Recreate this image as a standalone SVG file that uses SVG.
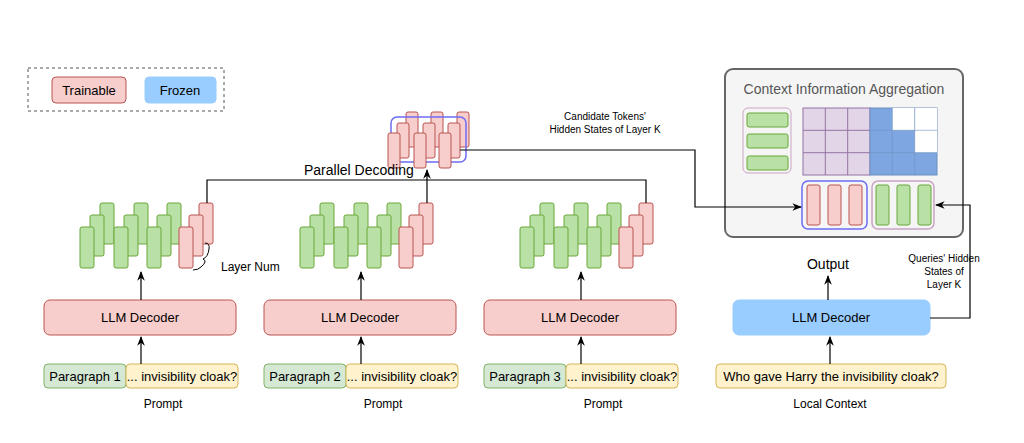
<svg xmlns="http://www.w3.org/2000/svg" width="1024" height="443" viewBox="0 0 1024 443">
<defs>
<style>
text{font-family:"Liberation Sans",Arial,sans-serif;fill:#000}
.r{fill:#f8cecc;stroke:#b85450;stroke-width:1}
.g{fill:#b9e0a5;stroke:#6aa83a;stroke-width:1}
.para{fill:#d5e8d4;stroke:#82b366}
.yel{fill:#fff2cc;stroke:#d6b656}
.ln{fill:none;stroke:#000;stroke-width:1.2}
</style>
<marker id="a" viewBox="0 0 10 10" refX="9" refY="5" markerWidth="8" markerHeight="8" orient="auto"><path d="M0,1 L10,5 L0,9 L3,5 Z" fill="#000"/></marker>
<g id="trip-g"><rect class="g" x="20" y="0" width="14" height="41" rx="2"/><rect class="g" x="10" y="12" width="14" height="41" rx="2"/><rect class="g" x="0" y="24" width="14" height="41" rx="2"/></g>
<g id="trip-r"><rect class="r" x="20" y="0" width="14" height="41" rx="2"/><rect class="r" x="10" y="12" width="14" height="41" rx="2"/><rect class="r" x="0" y="24" width="14" height="41" rx="2"/></g>
<g id="stack"><use href="#trip-g" x="0" y="0"/><use href="#trip-g" x="34" y="0"/><use href="#trip-g" x="67" y="0"/><use href="#trip-r" x="99" y="0"/></g>
</defs>
<rect width="1024" height="443" fill="#fff"/>
<g id="legend">
<rect x="28" y="68" width="196" height="43" fill="none" stroke="#555" stroke-dasharray="3,3"/>
<rect x="52" y="77" width="74" height="26" rx="4" class="r"/><text x="89" y="95" font-size="13" text-anchor="middle">Trainable</text>
<rect x="145" y="77" width="71" height="26" rx="4" fill="#99ccff" stroke="#99ccff"/><text x="180" y="95" font-size="13" text-anchor="middle">Frozen</text>
</g>
<g id="stack1"><use href="#stack" x="80" y="203"/>
<path d="M205,243 q5,0 4,6 q-1,8 -6,10 q5,2 -2,8 q-3,3 -8,3" fill="none" stroke="#000"/>
<text x="221" y="271" font-size="12">Layer Num</text></g>
<g id="stack2"><use href="#stack" x="300" y="203"/></g>
<g id="stack3"><use href="#stack" x="520" y="203"/></g>
<g id="candidates">
<rect x="406" y="112" width="12" height="35" rx="2" class="r"/><rect x="431" y="112" width="12" height="35" rx="2" class="r"/><rect x="457" y="112" width="12" height="35" rx="2" class="r"/>
<rect x="397" y="123" width="12" height="35" rx="2" class="r"/><rect x="423" y="123" width="12" height="35" rx="2" class="r"/><rect x="448" y="123" width="12" height="35" rx="2" class="r"/>
<rect x="391" y="117" width="75" height="45" rx="6" fill="none" stroke="#6c6cf5" stroke-width="1.5"/>
<rect x="388" y="133" width="12" height="35" rx="2" class="r"/><rect x="414" y="133" width="12" height="35" rx="2" class="r"/><rect x="439" y="133" width="12" height="35" rx="2" class="r"/>
<text x="605" y="120" font-size="10" text-anchor="middle">Candidate Tokens'</text>
<text x="605" y="133" font-size="10" text-anchor="middle">Hidden States of Layer K</text>
</g>
<g id="dec1"><rect x="44" y="300" width="192" height="35" rx="6" class="r"/><text x="140" y="322" font-size="13" text-anchor="middle">LLM Decoder</text>
<rect x="44" y="364" width="82" height="24" rx="4" class="para"/><text x="85" y="381" font-size="13" text-anchor="middle">Paragraph 1</text>
<rect x="126" y="364" width="112" height="24" rx="4" class="yel"/><text x="182" y="381" font-size="13" text-anchor="middle">... invisibility cloak?</text>
<text x="163" y="408" font-size="12" text-anchor="middle">Prompt</text></g>
<g id="dec2"><rect x="264" y="300" width="192" height="35" rx="6" class="r"/><text x="360" y="322" font-size="13" text-anchor="middle">LLM Decoder</text>
<rect x="264" y="364" width="82" height="24" rx="4" class="para"/><text x="305" y="381" font-size="13" text-anchor="middle">Paragraph 2</text>
<rect x="346" y="364" width="112" height="24" rx="4" class="yel"/><text x="402" y="381" font-size="13" text-anchor="middle">... invisibility cloak?</text>
<text x="383" y="408" font-size="12" text-anchor="middle">Prompt</text></g>
<g id="dec3"><rect x="484" y="300" width="192" height="35" rx="6" class="r"/><text x="580" y="322" font-size="13" text-anchor="middle">LLM Decoder</text>
<rect x="484" y="364" width="82" height="24" rx="4" class="para"/><text x="525" y="381" font-size="13" text-anchor="middle">Paragraph 3</text>
<rect x="566" y="364" width="112" height="24" rx="4" class="yel"/><text x="622" y="381" font-size="13" text-anchor="middle">... invisibility cloak?</text>
<text x="603" y="408" font-size="12" text-anchor="middle">Prompt</text></g>
<g id="dec4"><rect x="733" y="300" width="197" height="35" rx="6" fill="#99ccff" stroke="#99ccff"/><text x="831" y="322" font-size="13" text-anchor="middle">LLM Decoder</text>
<rect x="716" y="364" width="230" height="24" rx="4" class="yel"/><text x="831" y="381" font-size="13" text-anchor="middle">Who gave Harry the invisibility cloak?</text>
<text x="830" y="408" font-size="12" text-anchor="middle">Local Context</text>
<text x="828" y="269" font-size="14" text-anchor="middle">Output</text>
<text x="944" y="262" font-size="10" text-anchor="middle">Queries' Hidden</text>
<text x="944" y="275" font-size="10" text-anchor="middle">States of</text>
<text x="944" y="288" font-size="10" text-anchor="middle">Layer K</text></g>
<g id="aggregation">
<rect x="725" y="69" width="238" height="168" rx="8" fill="#f5f5f5" stroke="#666" stroke-width="2"/>
<text x="844" y="94" font-size="14" fill="#555" text-anchor="middle" style="fill:#555">Context Information Aggregation</text>
<rect x="743" y="108" width="48" height="65" rx="5" fill="#f5f5f5" stroke="#c9a3c4"/>
<rect x="747" y="113" width="41" height="14" rx="2" class="g"/><rect x="747" y="134" width="41" height="14" rx="2" class="g"/><rect x="747" y="156" width="41" height="14" rx="2" class="g"/>
<rect x="803" y="108" width="67" height="67" fill="#e1d5e7" stroke="#9673a6"/>
<path d="M825.3,108V175M847.7,108V175M803,130.3H870M803,152.7H870" stroke="#9673a6"/>
<rect x="870" y="108" width="67" height="67" fill="#7ea6e0" stroke="#6c8ebf"/>
<rect x="892.3" y="108" width="22.3" height="22.3" fill="#fff"/><rect x="914.7" y="108" width="22.3" height="44.6" fill="#fff"/>
<path d="M892.3,108V175M914.7,108V175M870,130.3H937M870,152.7H937" stroke="#6c8ebf" stroke-width="0.6"/>
<rect x="802" y="181" width="65" height="48" rx="6" fill="none" stroke="#6c6cf5" stroke-width="1.5"/>
<rect x="807" y="185" width="13" height="40" rx="2" class="r"/><rect x="828" y="185" width="13" height="40" rx="2" class="r"/><rect x="849" y="185" width="13" height="40" rx="2" class="r"/>
<rect x="872" y="181" width="62" height="48" rx="6" fill="none" stroke="#c9a3c4" stroke-width="1.5"/>
<rect x="876" y="185" width="13" height="40" rx="2" class="g"/><rect x="897" y="185" width="13" height="40" rx="2" class="g"/><rect x="918" y="185" width="13" height="40" rx="2" class="g"/>
</g>
<g id="connectors">
<path class="ln" d="M207,203V180H646V203"/>
<text x="304" y="175" font-size="14">Parallel Decoding</text>
<path class="ln" d="M427,203V170" marker-end="url(#a)" stroke="#444"/>
<path class="ln" d="M460,150H695V207H801" marker-end="url(#a)"/>
<path class="ln" d="M930,318H970V205H936" marker-end="url(#a)"/>
<path class="ln" d="M141,300V272" marker-end="url(#a)"/>
<path class="ln" d="M361,300V272" marker-end="url(#a)"/>
<path class="ln" d="M581,300V272" marker-end="url(#a)"/>
<path class="ln" d="M828,300V276" marker-end="url(#a)"/>
<path class="ln" d="M141,364V337" marker-end="url(#a)"/>
<path class="ln" d="M361,364V337" marker-end="url(#a)"/>
<path class="ln" d="M581,364V337" marker-end="url(#a)"/>
<path class="ln" d="M830,364V337" marker-end="url(#a)"/>
</g>
</svg>
